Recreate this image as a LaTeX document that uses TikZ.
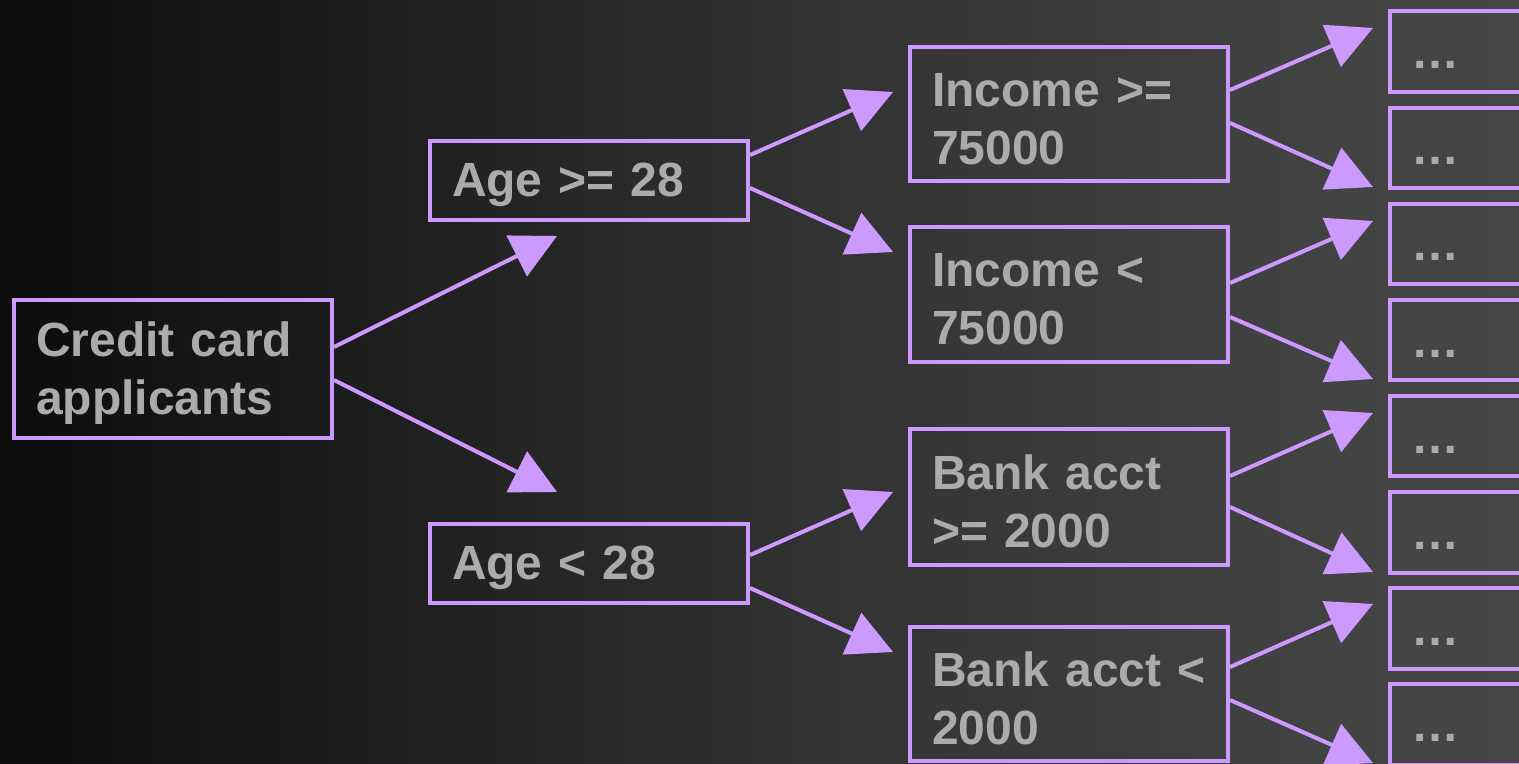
\documentclass[tikz,border=0pt]{standalone}
\usepackage{fontspec}
\setmainfont{Liberation Sans}
\usetikzlibrary{arrows.meta,calc}
\definecolor{lilac}{HTML}{CC99FF}
\definecolor{txtgrey}{HTML}{ABABAB}
\definecolor{bgA}{HTML}{0C0C0C}
\definecolor{bgB}{HTML}{1F1F1F}
\definecolor{bgC}{HTML}{333333}
\definecolor{bgD}{HTML}{424242}
\definecolor{bgE}{HTML}{464646}
\tikzset{
  basebox/.style={draw=lilac, line width=2pt, rectangle, inner xsep=11pt, inner ysep=0pt,
    align=left, text=txtgrey, font=\fontsize{24pt}{28.8pt}\selectfont\bfseries,
    text width=137pt, minimum width=159pt},
  box/.style={basebox, text height=21.5pt},
  leafbox/.style={basebox, text width=83.25pt, minimum width=105.25pt, minimum height=40.25pt},
  conn/.style={draw=lilac, line width=2pt, -{Triangle[length=22.5pt,width=22.5pt]}}
}
\begin{document}
\begin{tikzpicture}[x=0.5pt,y=-0.5pt]
\useasboundingbox (0,0) rectangle (1519,764);
% background
\shade[left color=bgA, right color=bgB, draw=none] (0,0) rectangle (401,764);
\shade[left color=bgB, right color=bgC, draw=none] (400,0) rectangle (831,764);
\shade[left color=bgC, right color=bgD, draw=none] (830,0) rectangle (1301,764);
\shade[left color=bgD, right color=bgE, draw=none] (1300,0) rectangle (1519,764);
\begin{scope}
\clip (0,0) rectangle (1519,764);
% nodes
\node[box, minimum height=69pt] (root) at (173,369) {Credit card\\applicants};
\node[box, minimum height=39.5pt] (age1) at (589,180.5) {Age >= 28};
\node[box, minimum height=39.5pt] (age2) at (589,563.5) {Age < 28};
\node[box, minimum height=67pt] (inc1) at (1069,114) {Income >=\\75000};
\node[box, minimum height=67.5pt] (inc2) at (1069,294.5) {Income <\\75000};
\node[box, minimum height=68pt] (bank1) at (1069,497) {Bank acct\\>= 2000};
\node[box, minimum height=67pt] (bank2) at (1069,694) {Bank acct <\\2000};
\foreach \i in {0,...,7}{
  \node[leafbox] (leaf\i) at (1494.75,{51.75+96.1*\i}) {\rule{0pt}{17pt}\ldots};
}
% arrow end points
\coordinate (t1) at (557,236);
\coordinate (t2) at (557,492);
\coordinate (t3) at (893,92);
\coordinate (t4) at (893,252);
\coordinate (t5) at (893,492);
\coordinate (t6) at (893,652);
\coordinate (t7) at (1373,28);
\coordinate (t8) at (1373,187);
\coordinate (t9) at (1373,221);
\coordinate (t10) at (1373,379);
\coordinate (t11) at (1373,413);
\coordinate (t12) at (1373,572);
\coordinate (t13) at (1373,604);
\coordinate (t14) at (1373,763);
% connectors
\draw[conn] ($(root.east)+(0,-22)$) -- (t1);
\draw[conn] ($(root.east)+(0,11)$) -- (t2);
\draw[conn] ($(age1.east)+(0,-25.5)$) -- (t3);
\draw[conn] ($(age1.east)+(0,7.5)$) -- (t4);
\draw[conn] ($(age2.east)+(0,-8.5)$) -- (t5);
\draw[conn] ($(age2.east)+(0,24.5)$) -- (t6);
\draw[conn] ($(inc1.east)+(0,-24)$) -- (t7);
\draw[conn] ($(inc1.east)+(0,9)$) -- (t8);
\draw[conn] ($(inc2.east)+(0,-11.5)$) -- (t9);
\draw[conn] ($(inc2.east)+(0,22.5)$) -- (t10);
\draw[conn] ($(bank1.east)+(0,-21)$) -- (t11);
\draw[conn] ($(bank1.east)+(0,10)$) -- (t12);
\draw[conn] ($(bank2.east)+(0,-27)$) -- (t13);
\draw[conn] ($(bank2.east)+(0,6)$) -- (t14);
\end{scope}
\end{tikzpicture}
\end{document}
